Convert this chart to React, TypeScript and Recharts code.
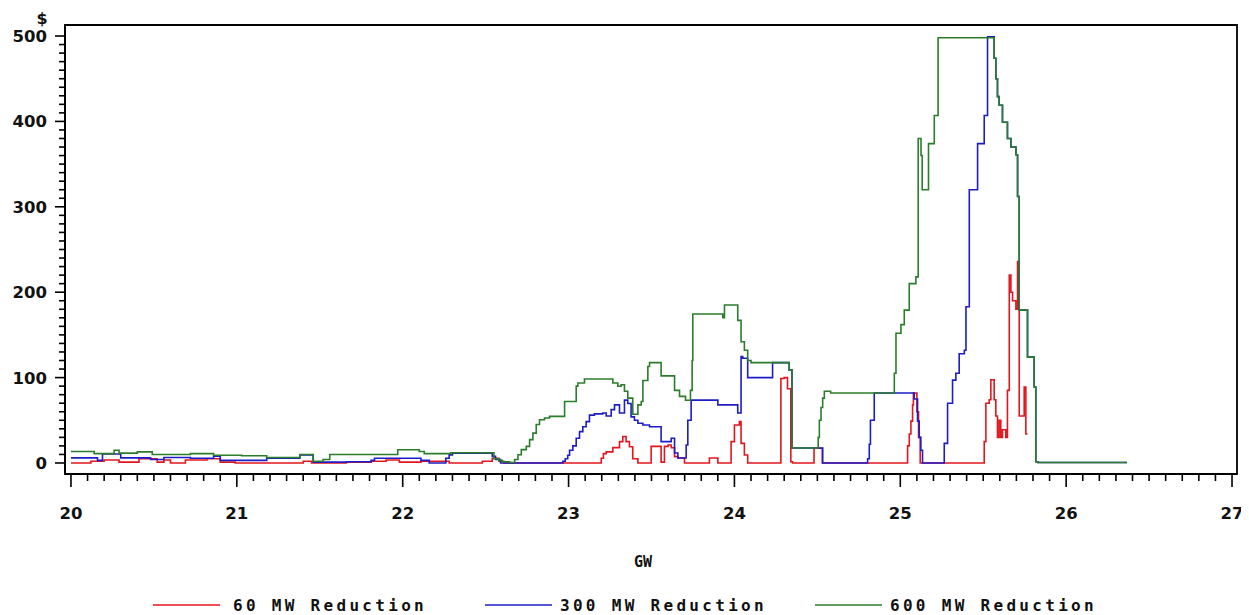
import React from "react";
import { LineChart, Line, XAxis, YAxis, Legend, ReferenceArea } from "recharts";

// 60 MW Reduction (GW, $) step breakpoints
const redX = [20.0, 20.12, 20.2, 20.29, 20.41, 20.52, 20.56, 20.6, 20.69, 20.82, 20.9, 20.99, 21.4, 21.45, 21.66, 21.81, 21.9, 21.98, 22.11, 22.28, 22.48, 22.54, 22.58, 22.61,
  23.197, 23.21, 23.227, 23.267, 23.307, 23.327, 23.347, 23.367, 23.387, 23.418, 23.498, 23.558, 23.578, 23.6, 23.619, 23.639, 23.659, 23.699, 23.849, 23.9, 23.98, 24.0, 24.03, 24.04, 24.06, 24.08,
  24.28, 24.3, 24.32, 24.34, 24.35, 24.48, 24.53, 25.044, 25.054, 25.064, 25.074, 25.079, 25.1, 25.11, 25.12,
  25.506, 25.516, 25.536, 25.546, 25.566, 25.576, 25.586, 25.596, 25.606, 25.616, 25.636, 25.646, 25.657, 25.667, 25.677, 25.697, 25.707, 25.717, 25.747, 25.757, 25.767];
const redY = [0, 2, 3.5, 1, 5, 1, 3.5, 0, 3.5, 5, 1, 0, 2, 0, 1, 2, 3.5, 1, 2, 0, 2, 5.5, 2, 0,
  5.5, 11, 13, 18, 25, 31, 25, 19, 5, 0, 19.5, 1, 19.5, 21, 17.8, 7.4, 5.9, 0, 5.9, 0, 25, 44.5, 48.4, 23, 9.4, 0,
  99, 100, 87, 1.5, 0, 17.2, 0, 20, 34, 49, 68, 82, 60, 30, 0,
  25, 70, 74, 97.5, 74, 55, 30, 50, 30, 39, 30, 85, 220, 200, 190, 180, 236, 55, 89, 34, 34];

// 300 MW Reduction
const blueX = [20.0, 20.16, 20.19, 20.3, 20.48, 20.56, 20.72, 20.86, 20.9, 21.18, 21.38, 21.46, 21.66, 21.81, 21.83, 22.11, 22.16, 22.26, 22.28, 22.3, 22.54, 22.56, 22.59,
  22.966, 22.98, 22.995, 23.006, 23.026, 23.046, 23.066, 23.086, 23.106, 23.126, 23.156, 23.206, 23.227, 23.257, 23.277, 23.307, 23.337, 23.357, 23.377, 23.397, 23.418, 23.448, 23.488, 23.558, 23.619, 23.639, 23.659, 23.709, 23.719, 23.739, 23.9, 24.02, 24.04, 24.05, 24.08, 24.23, 24.33, 24.347, 24.532,
  24.803, 24.813, 24.82, 24.843, 25.084, 25.104, 25.114, 25.124, 25.134, 25.265, 25.285, 25.315, 25.335, 25.355, 25.386, 25.396, 25.416, 25.466, 25.506, 25.526,
  25.566, 25.576, 25.586, 25.596, 25.616, 25.646, 25.667, 25.697, 25.707, 25.717, 25.767, 25.807, 25.817, 25.83, 26.367];
const blueY = [6, 3, 10.5, 6, 4, 6.5, 5.5, 8, 3, 5.5, 9.5, 1, 1.5, 3, 5.5, 3, 0, 5.5, 9.5, 11.5, 7.8, 4, 0,
  2, 5, 9, 15, 20, 29, 36.7, 42.5, 48.4, 56, 57.5, 58.6, 55, 62.5, 68, 58.6, 73.6, 69.7, 54, 50, 46.5, 44.5, 42.5, 25, 29, 11.7, 5.9, 21, 50, 73.6, 68, 58.6, 124.5, 122.6, 100, 117.5, 109, 17.5, 0,
  5, 22, 50, 82, 75, 49, 30, 15, 0, 23, 70, 97, 105, 128, 132, 183, 320, 374, 407, 499,
  474, 450, 429, 419, 399, 380, 370, 361, 312, 179, 124, 89, 1.5, 0.5, 0.5];

// 600 MW Reduction
const greenX = [20.0, 20.14, 20.26, 20.29, 20.4, 20.49, 20.72, 20.86, 21.03, 21.18, 21.38, 21.46, 21.52, 21.56, 21.97, 22.1, 22.13, 22.29, 22.55, 22.58, 22.6, 22.645,
  22.675, 22.695, 22.715, 22.745, 22.765, 22.785, 22.805, 22.825, 22.855, 22.885, 22.976, 23.046, 23.056, 23.096, 23.267, 23.297, 23.317, 23.337, 23.357, 23.387, 23.418, 23.438, 23.448, 23.478, 23.488, 23.558, 23.639, 23.669, 23.705, 23.735, 23.745, 23.749,
  23.93, 23.94, 24.02, 24.04, 24.06, 24.08, 24.1, 24.33, 24.347, 24.505, 24.512, 24.522, 24.532, 24.542, 24.58, 24.964, 24.974, 25.004, 25.024, 25.054, 25.094, 25.108, 25.125, 25.132, 25.17, 25.205, 25.228,
  25.566, 25.576, 25.586, 25.596, 25.616, 25.646, 25.667, 25.697, 25.707, 25.717, 25.767, 25.807, 25.817, 25.83, 26.367];
const greenY = [13.5, 11, 15, 11.5, 13, 10, 11, 9, 8.5, 6.5, 10, 2, 4, 10, 15.5, 13.5, 11, 12, 5, 3, 1.5, 0.5,
  4, 9.7, 15.6, 19.5, 27.3, 35, 45, 50.7, 52.7, 54.6, 72, 90, 93.7, 98.4, 93.7, 89.8, 91.7, 84, 76, 57, 68, 72, 96.6, 113, 117.5, 102, 85, 78, 73.5, 85, 120, 174.5,
  170, 185, 167, 142, 132, 120, 117.5, 109, 17.5, 30, 50, 65, 76, 84, 82, 105, 152, 162, 179, 210, 218, 380, 360, 320, 374, 407, 498,
  474, 450, 429, 419, 399, 380, 370, 361, 312, 179, 124, 89, 1.5, 0.5, 0.5];

const seriesNames = ["60 MW Reduction", "300 MW Reduction", "600 MW Reduction"];
const seriesColors = ["#e3161e", "#1c1cc8", "#2b7d2b"];

const xTicks: number[] = [];
for (let i = 200; i <= 270; i++) xTicks.push(i / 10);
const yTicks: number[] = [];
for (let i = 0; i <= 50; i++) yTicks.push(i * 10);

const toData = (xs: number[], ys: number[]) => xs.map((x, i) => ({ x, y: ys[i] }));
const redData = toData(redX, redY);
const blueData = toData(blueX, blueY);
const greenData = toData(greenX, greenY);

const FONT = "'DejaVu Sans', sans-serif";
const X_DOMAIN: [number, number] = [19.964, 27.03];
const Y_DOMAIN: [number, number] = [-12.9, 512.9];

const XTick = (props: any) => {
  const { x, y, payload } = props;
  const v = Math.round(payload.value * 10);
  const major = v % 10 === 0;
  return (
    <g>
      <line x1={x} x2={x} y1={y} y2={y + (major ? 13 : 7)} stroke="#000" strokeWidth={1.6} />
      {major && (
        <text x={x} y={y + 45} textAnchor="middle" fontFamily={FONT} fontWeight="bold" fontSize={16.5} fill="#111">
          {v / 10}
        </text>
      )}
    </g>
  );
};

const YTick = (props: any) => {
  const { x, y, payload } = props;
  const v = Math.round(payload.value);
  const major = v % 100 === 0;
  return (
    <g>
      <line x1={x} x2={x - (major ? 10 : 6)} y1={y} y2={y} stroke="#000" strokeWidth={1.6} />
      {major && (
        <text x={x - 18} y={y + 6} textAnchor="end" fontFamily={FONT} fontWeight="bold" fontSize={16.5} fill="#111">
          {v}
        </text>
      )}
    </g>
  );
};

const legendPos = [
  { lx: 145, tx: 225 },
  { lx: 477, tx: 552 },
  { lx: 807, tx: 882 },
];

const LegendContent = () => (
  <svg width={1241} height={30} style={{ display: "block", overflow: "visible" }}>
    {seriesNames.map((n, i) => (
      <g key={n}>
        <line x1={legendPos[i].lx} x2={legendPos[i].lx + 67} y1={12} y2={12} stroke={seriesColors[i]} strokeWidth={1.6} />
        <text x={legendPos[i].tx} y={18} fontFamily="'DejaVu Sans Mono', monospace" fontWeight="bold" fontSize={16} letterSpacing={3.3} fill="#111">
          {n}
        </text>
      </g>
    ))}
  </svg>
);

export default function App() {
  return (
    <LineChart width={1241} height={607} margin={{ top: 17, right: 12, bottom: 0, left: 0 }}>
      <XAxis
        dataKey="x"
        type="number"
        domain={X_DOMAIN}
        ticks={xTicks}
        interval={0}
        allowDataOverflow
        height={141}
        tickSize={0}
        tickMargin={0}
        tickLine={false}
        axisLine={{ stroke: "#000", strokeWidth: 1.8 }}
        tick={<XTick />}
        label={{
          content: () => (
            <text x={635} y={559} textAnchor="middle" fontFamily="'DejaVu Sans Mono', monospace" fontWeight="bold" fontSize={15} fill="#111">
              GW
            </text>
          ),
        }}
      />
      <YAxis
        type="number"
        domain={Y_DOMAIN}
        ticks={yTicks}
        interval={0}
        allowDataOverflow
        width={57}
        tickSize={0}
        tickMargin={0}
        tickLine={false}
        axisLine={{ stroke: "#000", strokeWidth: 1.8 }}
        tick={<YTick />}
        label={{
          content: () => (
            <text x={34} y={16} textAnchor="middle" fontFamily={FONT} fontWeight="bold" fontSize={16} fill="#111">
              $
            </text>
          ),
        }}
      />
      <ReferenceArea
        x1={X_DOMAIN[0]}
        x2={X_DOMAIN[1]}
        y1={Y_DOMAIN[0]}
        y2={Y_DOMAIN[1]}
        fill="none"
        fillOpacity={0}
        stroke="#000"
        strokeWidth={1.8}
        ifOverflow="visible"
      />
      <Legend
        content={<LegendContent />}
        wrapperStyle={{ position: "absolute", left: 0, top: 585, width: 1241, height: 0, overflow: "visible" }}
      />
      <Line data={redData} dataKey="y" name={seriesNames[0]} type="stepAfter" stroke={seriesColors[0]} strokeWidth={1.6} dot={false} isAnimationActive={false} />
      <Line data={blueData} dataKey="y" name={seriesNames[1]} type="stepAfter" stroke={seriesColors[1]} strokeWidth={1.6} dot={false} isAnimationActive={false} />
      <Line data={greenData} dataKey="y" name={seriesNames[2]} type="stepAfter" stroke={seriesColors[2]} strokeWidth={1.6} dot={false} isAnimationActive={false} />
    </LineChart>
  );
}
